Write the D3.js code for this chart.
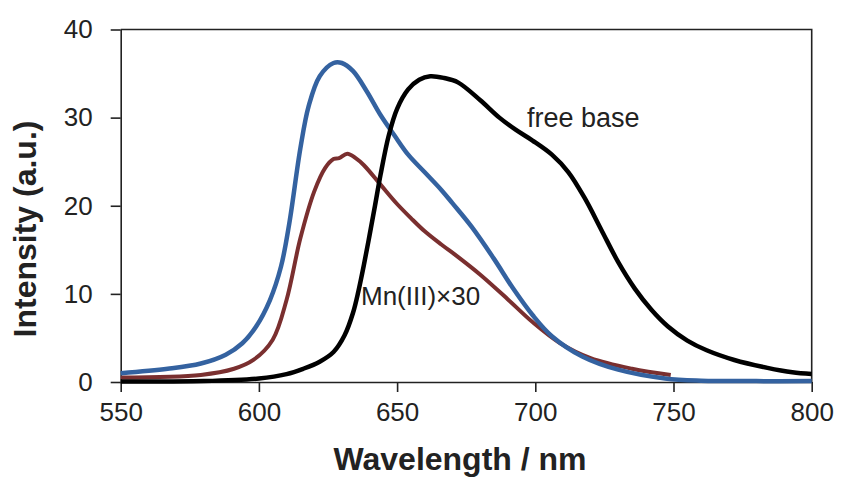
<!DOCTYPE html>
<html>
<head>
<meta charset="utf-8">
<script src="https://cdn.jsdelivr.net/npm/d3@7"></script>
<style>
  body { margin: 0; background: #fff; }
  svg { display: block; }
  text { font-family: Arial, "Liberation Sans", sans-serif; fill: #222; }
</style>
</head>
<body>
<svg id="chart" width="843" height="482"></svg>
<script>
// Emission spectra (wavelength nm, intensity a.u.)
const freeBaseWl = [550, 580, 600, 610, 616, 622, 627, 631, 634, 636, 638, 640, 642, 644, 647, 650, 654, 658, 662, 667, 672, 680, 687, 693, 699, 706, 712, 718, 724, 730, 736, 742, 748, 755, 762, 772, 784, 793, 800];
const freeBaseI = [0.05, 0.1, 0.4, 0.9, 1.5, 2.3, 3.4, 5.3, 7.8, 10.3, 13.3, 16.6, 20.0, 23.5, 28.0, 31.0, 33.2, 34.3, 34.7, 34.5, 34.0, 32.0, 30.0, 28.6, 27.4, 25.8, 23.8, 20.8, 17.2, 13.6, 10.6, 8.2, 6.3, 4.7, 3.6, 2.5, 1.6, 1.1, 0.9];

const mnBlueWl = [550, 567, 579, 588, 594, 599, 604, 608, 611, 615, 618, 622, 627, 630, 634, 639, 644, 649, 654, 660, 666, 670, 677, 685, 692, 699, 706, 717, 730, 747, 760, 780, 800];
const mnBlueI = [1.0, 1.5, 2.1, 3.1, 4.4, 6.3, 9.3, 13.1, 18.0, 26.5, 31.3, 34.7, 36.2, 36.2, 35.3, 33.0, 30.3, 28.0, 25.8, 23.8, 21.8, 20.3, 17.6, 14.0, 10.6, 7.6, 5.2, 2.9, 1.4, 0.4, 0.15, 0.1, 0.1];

const mnRedWl = [550, 579, 591, 598, 605, 610, 615, 620, 624, 627, 629, 632, 635, 638, 644, 650, 655, 660, 666, 672, 680, 690, 699, 709, 720, 735, 749];
const mnRedI = [0.5, 0.8, 1.5, 2.5, 4.8, 9.3, 16.3, 21.6, 24.3, 25.3, 25.4, 25.9, 25.4, 24.6, 22.4, 20.2, 18.6, 17.1, 15.6, 14.2, 12.2, 9.4, 6.8, 4.4, 2.7, 1.5, 0.8];

const xTicks = [550, 600, 650, 700, 750, 800];
const yTicks = [0, 10, 20, 30, 40];

const svg = d3.select("#chart");
const x = d3.scaleLinear().domain([550, 800]).range([120.7, 811.7]);
const y = d3.scaleLinear().domain([0, 40]).range([382, 29.5]);

// frame (top and right edges of plot area)
svg.append("path")
    .attr("d", `M${x(550)},${y(40)}H${x(800)}V${y(0)}`)
    .attr("fill", "none")
    .attr("stroke", "#222")
    .attr("stroke-width", 1.6);

// axes
const xAxis = svg.append("g")
    .attr("transform", `translate(0,${y(0)})`)
    .call(d3.axisBottom(x).tickValues(xTicks).tickSize(10).tickPadding(11).tickSizeOuter(0));
const yAxis = svg.append("g")
    .attr("transform", `translate(${x(550)},0)`)
    .call(d3.axisLeft(y).tickValues(yTicks).tickSize(10).tickPadding(18).tickSizeOuter(0));

[xAxis, yAxis].forEach(a => {
    a.select(".domain").attr("stroke", "#222").attr("stroke-width", 1.6);
    a.selectAll(".tick line").attr("stroke", "#222").attr("stroke-width", 1.6);
    a.selectAll(".tick text")
        .attr("fill", "#222")
        .style("font-size", "26px")
        .style("font-family", "Arial, 'Liberation Sans', sans-serif");
});

// curves
const line = d3.line()
    .x(d => x(d[0]))
    .y(d => y(d[1]))
    .curve(d3.curveCatmullRom.alpha(0.5));

const series = [
    { wl: mnRedWl, vals: mnRedI, color: "#7a2f2f", width: 4 },
    { wl: mnBlueWl, vals: mnBlueI, color: "#3462a0", width: 4.5 },
    { wl: freeBaseWl, vals: freeBaseI, color: "#000", width: 4.5 }
];

series.forEach(s => {
    svg.append("path")
        .datum(s.wl.map((w, i) => [w, s.vals[i]]))
        .attr("d", line)
        .attr("fill", "none")
        .attr("stroke", s.color)
        .attr("stroke-width", s.width)
        .attr("stroke-linejoin", "round");
});

// labels
svg.append("text")
    .attr("x", 527)
    .attr("y", 127)
    .style("font-size", "27px")
    .text("free base");

svg.append("text")
    .attr("x", 361)
    .attr("y", 305)
    .style("font-size", "26px")
    .text("Mn(III)×30");

svg.append("text")
    .attr("x", 460)
    .attr("y", 470)
    .attr("text-anchor", "middle")
    .style("font-size", "32px")
    .style("font-weight", "bold")
    .attr("fill", "#111")
    .text("Wavelength / nm");

svg.append("text")
    .attr("transform", "translate(36,229) rotate(-90)")
    .attr("text-anchor", "middle")
    .style("font-size", "32px")
    .style("font-weight", "bold")
    .attr("fill", "#111")
    .text("Intensity (a.u.)");
</script>
</body>
</html>
